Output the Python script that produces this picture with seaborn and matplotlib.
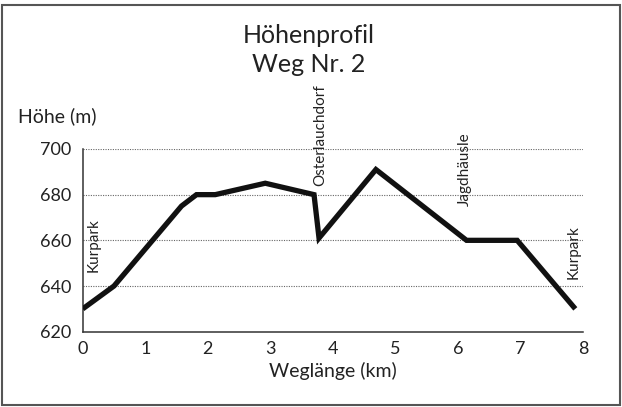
import matplotlib
matplotlib.use("Agg")
import matplotlib.pyplot as plt
import pandas as pd
import seaborn as sns
from matplotlib.patches import Rectangle

# Profile points
km = [0.0, 0.5, 1.58, 1.82, 2.12, 2.92, 3.70, 3.78, 4.69, 6.14, 6.95, 7.88]
hoehe = [630, 640, 675, 680, 680, 685, 680, 661, 691, 660, 660, 630]

x_ticks = [0, 1, 2, 3, 4, 5, 6, 7, 8]
y_ticks = [620, 640, 660, 680, 700]

orte = ["Kurpark", "Osterlauchdorf", "Jagdhäusle", "Kurpark"]
orte_km = [0.17, 3.80, 6.12, 7.85]
orte_hoehe = [658, 706, 691, 655]

df = pd.DataFrame({"km": km, "hoehe": hoehe})

sns.set_style("white")
plt.rcParams["font.family"] = ["Lato", "DejaVu Sans"]

fig = plt.figure(figsize=(6.22, 4.07), dpi=100)
ax = fig.add_axes([0.133, 0.185, 0.804, 0.449])

sns.lineplot(data=df, x="km", y="hoehe", ax=ax, color="#111111", linewidth=3.8,
             sort=False, solid_joinstyle="miter", solid_capstyle="butt", zorder=3)

ax.set_xlim(0, 8)
ax.set_ylim(620, 700)
ax.set_xticks(x_ticks)
ax.set_yticks(y_ticks)
ax.tick_params(axis="x", direction="out", length=3, width=1, color="#333333",
               labelsize=13, pad=4, colors="#222222")
ax.tick_params(axis="y", direction="out", length=6, width=1, color="#333333",
               labelsize=13, pad=2, colors="#222222")

for g in y_ticks[1:]:
    ax.axhline(g, color="#666666", linestyle=(0, (1, 1.2)), linewidth=0.8, zorder=1)

for s in ["top", "right"]:
    ax.spines[s].set_visible(False)
for s in ["left", "bottom"]:
    ax.spines[s].set_color("#333333")
    ax.spines[s].set_linewidth(1.1)

ax.set_xlabel("Weglänge (km)", fontsize=14, color="#222222", labelpad=3)
ax.set_ylabel("")

for name, xk, yh in zip(orte, orte_km, orte_hoehe):
    ax.text(xk, yh, name, rotation=90, ha="center", va="center",
            fontsize=11, color="#222222", clip_on=False)

fig.text(0.497, 0.914, "Höhenprofil", ha="center", va="center", fontsize=18, color="#222222")
fig.text(0.497, 0.842, "Weg Nr. 2", ha="center", va="center", fontsize=18, color="#222222")
fig.text(0.029, 0.714, "Höhe (m)", ha="left", va="center", fontsize=14, color="#222222")

fig.patches.append(Rectangle((0.004, 0.005), 0.993, 0.983, transform=fig.transFigure,
                             fill=False, edgecolor="#555555", linewidth=1.5))

fig.savefig("out.png", dpi=100)
